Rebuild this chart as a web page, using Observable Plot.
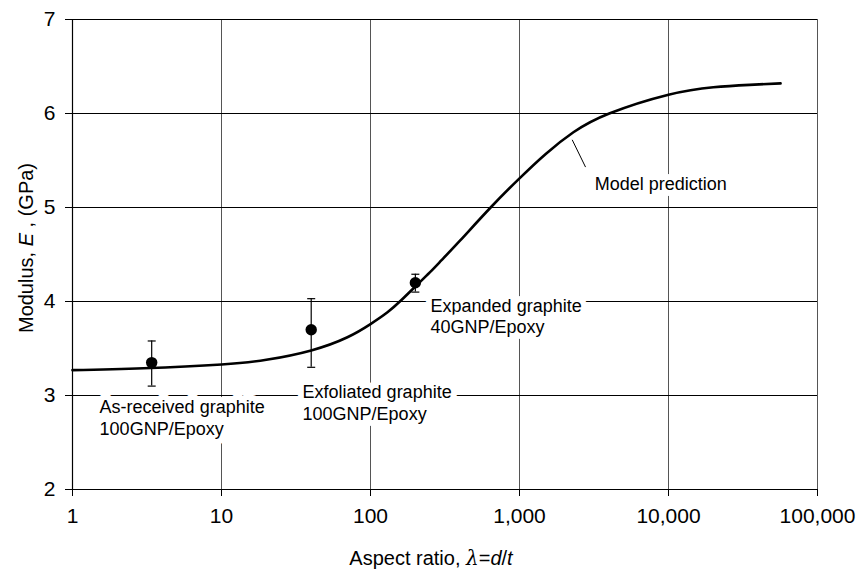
<!DOCTYPE html>
<html>
<head>
<meta charset="utf-8">
<script src="https://cdn.jsdelivr.net/npm/d3@7"></script>
<script src="https://cdn.jsdelivr.net/npm/@observablehq/plot@0.6"></script>
<style>
  html, body { margin: 0; padding: 0; background: white; }
  #chart { width: 856px; height: 570px; }
</style>
</head>
<body>
<div id="chart"></div>
<script>
// ---- Data ----
const xTicks = [1, 10, 100, 1000, 10000, 100000];
const yTicks = [2, 3, 4, 5, 6, 7];

// Model prediction curve (aspect ratio vs modulus, GPa)
const curveX = [1, 3, 10, 20, 40, 70, 100, 130, 160, 200, 250, 300, 400, 640, 1000, 1500, 2300, 4000, 10000, 20000, 35000, 56500];
const curveY = [3.27, 3.29, 3.33, 3.38, 3.48, 3.62, 3.76, 3.885, 4.01, 4.16, 4.31, 4.44, 4.65, 5.0, 5.31, 5.57, 5.80, 6.0, 6.20, 6.28, 6.305, 6.32];

// Measured points
const pointNames = ["As-received graphite", "Exfoliated graphite", "Expanded graphite"];
const pointX = [3.4, 40, 200];
const pointY = [3.35, 3.70, 4.20];
const errLow = [3.10, 3.30, 4.10];
const errHigh = [3.58, 4.03, 4.29];

// Annotations
const annText = ["As-received graphite\n100GNP/Epoxy", "Exfoliated graphite\n100GNP/Epoxy", "Expanded graphite\n40GNP/Epoxy", "Model prediction"];
const annX = [1.52, 35, 253, 3200];
const annY = [2.77, 2.93, 3.85, 5.255];

// Leader line for "Model prediction"
const leaderX = [2258, 2775];
const leaderY = [5.72, 5.43];

// ---- Build tables ----
const curve = curveX.map((x, i) => ({x, y: curveY[i]}));
const points = pointX.map((x, i) => ({name: pointNames[i], x, y: pointY[i], lo: errLow[i], hi: errHigh[i]}));
const ann = annText.map((t, i) => ({text: t, x: annX[i], y: annY[i]}));
const leader = [{x1: leaderX[0], y1: leaderY[0], x2: leaderX[1], y2: leaderY[1]}];

const capSymbol = { draw(ctx) { ctx.moveTo(-4, 0); ctx.lineTo(4, 0); } };
const FONT = "'Liberation Sans', Arial, Helvetica, sans-serif";

const chart = Plot.plot({
  width: 856,
  height: 570,
  marginLeft: 72,
  marginRight: 39,
  marginTop: 19,
  marginBottom: 81,
  style: { fontFamily: FONT, background: "white", color: "black" },
  x: { type: "log", domain: [1, 100000] },
  y: { domain: [2, 7] },
  marks: [
    Plot.ruleX(xTicks, { stroke: "#555", strokeWidth: 1 }),
    Plot.ruleY(yTicks, { stroke: "#000", strokeWidth: 1 }),
    Plot.ruleX([1], { stroke: "#000", strokeWidth: 1.2 }),
    Plot.ruleY([2], { stroke: "#000", strokeWidth: 1.2 }),
    Plot.axisX({ ticks: xTicks, tickFormat: d3.format(","), tickSize: 7, tickPadding: 12, fontSize: 21, label: null, stroke: "#000" }),
    Plot.axisY({ ticks: yTicks, tickFormat: d3.format("d"), tickSize: 7, tickPadding: 10, fontSize: 21, label: null, stroke: "#000" }),
    Plot.text(ann, { x: "x", y: "y", text: "text", textAnchor: "start", lineAnchor: "middle", fontSize: 18, lineHeight: 1.2, fill: "black", stroke: "white", strokeWidth: 12, strokeLinejoin: "round", paintOrder: "stroke" }),
    Plot.link(leader, { x1: "x1", y1: "y1", x2: "x2", y2: "y2", stroke: "black", strokeWidth: 1 }),
    Plot.line(curve, { x: "x", y: "y", stroke: "black", strokeWidth: 2.6, curve: "natural" }),
    Plot.ruleX(points, { x: "x", y1: "lo", y2: "hi", stroke: "black", strokeWidth: 1.2 }),
    Plot.dot(points, { x: "x", y: "lo", symbol: capSymbol, stroke: "black", strokeWidth: 1.2, fill: "none" }),
    Plot.dot(points, { x: "x", y: "hi", symbol: capSymbol, stroke: "black", strokeWidth: 1.2, fill: "none" }),
    Plot.dot(points, { x: "x", y: "y", r: 5.7, fill: "black", stroke: "none" })
  ]
});

const svg = d3.select(chart);
// X axis title
const xt = svg.append("text")
  .attr("x", 431).attr("y", 565)
  .attr("text-anchor", "middle")
  .attr("font-size", 20)
  .attr("font-family", FONT)
  .attr("fill", "black");
xt.append("tspan").text("Aspect ratio, ");
xt.append("tspan").attr("font-family", "'DejaVu Serif', serif").attr("font-style", "italic").text("λ");
xt.append("tspan").text("=");
xt.append("tspan").attr("font-style", "italic").text("d");
xt.append("tspan").text("/");
xt.append("tspan").attr("font-style", "italic").text("t");

// Y axis title
const yt = svg.append("text")
  .attr("transform", "translate(33,248) rotate(-90)")
  .attr("text-anchor", "middle")
  .attr("font-size", 20)
  .attr("font-family", FONT)
  .attr("fill", "black");
yt.append("tspan").text("Modulus, ");
yt.append("tspan").attr("font-style", "italic").text("E");
yt.append("tspan").text(" , (GPa)");

document.getElementById("chart").appendChild(chart);
</script>
</body>
</html>
